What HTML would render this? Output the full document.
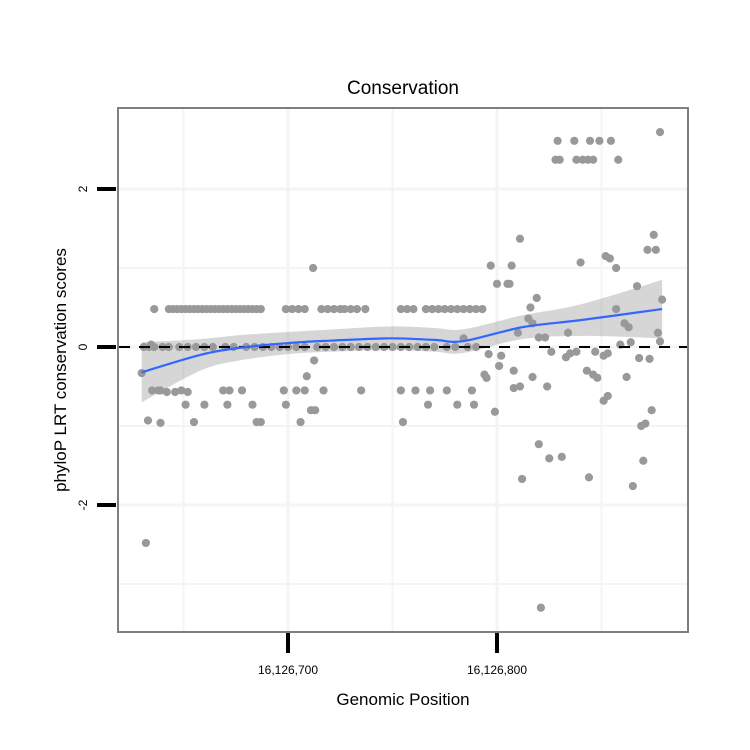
<!DOCTYPE html>
<html><head><meta charset="utf-8"><style>
body{margin:0;background:#fff}
svg{display:block;font-family:"Liberation Sans",sans-serif}
</style></head><body>
<svg id="chart" width="750" height="750"></svg>
<script>
const posOffsets=[-70,-68,-67,-66.5,-65.5,-64,-65,-62,-61,-58,-54,-51,-48,-61,
-57,-55,-53,-51,-49,-47,-45,-43,-41,-39,-37,-35,-33,-31,-29,-27,-25,-23,-21,-19,-17,-15,-13,
-1,2,5,8,16,19,22,25,27,30,33,37,54,57,60,66,69,72,75,78,81,84,87,90,93,
-69,-64,-60,-57,-52,-48,-44,-40,-36,-30,-26,-20,-16,-12,-8,-4,0,4,8,14,18,22,26,30,34,38,42,46,50,54,58,62,66,70,76,80,86,90,
-31,-28,-22,-2,4,8,17,35,54,61,68,76,88,
-49,-40,-29,-17,-1,67,81,89,
-45,-15,-13,6,55,
12,12.5,9,11,13,
129,137,144.5,149,154.5,128,130,138,141,143.5,146,158,178,
111,97,107,100,105,106,140,152,157,154,175,172,176,167,179,119,116,115,117,157,161,163,177,178,134,110,120,123,84,
96,102,101,94,95,108,108,111,117,124,126,133,135,138,147,151,143,146,148,153,159,164,168,173,162,151,153,99,120,125,131,112,144,121,165,170,169,171,174];
const scores=[-0.33,-2.48,-0.93,0,0.03,0.48,-0.55,-0.55,-0.55,-0.57,-0.57,-0.55,-0.57,-0.96,
0.48,0.48,0.48,0.48,0.48,0.48,0.48,0.48,0.48,0.48,0.48,0.48,0.48,0.48,0.48,0.48,0.48,0.48,0.48,0.48,0.48,0.48,0.48,
0.48,0.48,0.48,0.48,0.48,0.48,0.48,0.48,0.48,0.48,0.48,0.48,0.48,0.48,0.48,0.48,0.48,0.48,0.48,0.48,0.48,0.48,0.48,0.48,0.48,
0,0,0,0,0,0,0,0,0,0,0,0,0,0,0,0,0,0,0,0,0,0,0,0,0,0,0,0,0,0,0,0,0,0,0,0,0,0,
-0.55,-0.55,-0.55,-0.55,-0.55,-0.55,-0.55,-0.55,-0.55,-0.55,-0.55,-0.55,-0.55,
-0.73,-0.73,-0.73,-0.73,-0.73,-0.73,-0.73,-0.73,
-0.95,-0.95,-0.95,-0.95,-0.95,
1.0,-0.17,-0.37,-0.8,-0.8,
2.61,2.61,2.61,2.61,2.61,2.37,2.37,2.37,2.37,2.37,2.37,2.37,2.72,
1.37,1.03,1.03,0.8,0.8,0.8,1.07,1.15,1.0,1.12,1.42,1.23,1.23,0.77,0.6,0.62,0.5,0.36,0.3,0.48,0.3,0.25,0.18,0.07,0.18,0.18,0.12,0.12,0.11,
-0.09,-0.11,-0.24,-0.35,-0.39,-0.3,-0.52,-0.5,-0.38,-0.5,-0.06,-0.13,-0.08,-0.06,-0.06,-0.11,-0.3,-0.35,-0.39,-0.08,0.03,0.06,-0.14,-0.15,-0.38,-0.68,-0.62,-0.82,-1.23,-1.41,-1.39,-1.67,-1.65,-3.3,-1.76,-1.44,-1.0,-0.97,-0.8];
const smoothX=[-70,-42,-23,0,20,49,70,84,112,140,179];
const smoothY=[-0.32,-0.10,-0.01,0.05,0.08,0.11,0.09,0.075,0.25,0.34,0.48];
const smoothSE=[0.38,0.2,0.16,0.14,0.14,0.15,0.15,0.15,0.15,0.2,0.37];
const xTicks=[16126700,16126800];
const xTickLabels=["16,126,700","16,126,800"];
const yTicks=[-2,0,2];
const base=16126700;
const X=d=>288+d*2.09;
const Y=v=>347-v*79;
const NS="http://www.w3.org/2000/svg";
const svg=document.getElementById('chart');
function mk(t,a,p){const e=document.createElementNS(NS,t);for(const k in a)e.setAttribute(k,a[k]);(p||svg).appendChild(e);return e;}
function curve(pts){let s='M'+pts[0][0]+','+pts[0][1];
for(let i=0;i<pts.length-1;i++){const p0=pts[Math.max(i-1,0)],p1=pts[i],p2=pts[i+1],p3=pts[Math.min(i+2,pts.length-1)];
s+=' C'+(p1[0]+(p2[0]-p0[0])/6)+','+(p1[1]+(p2[1]-p0[1])/6)+' '+(p2[0]-(p3[0]-p1[0])/6)+','+(p2[1]-(p3[1]-p1[1])/6)+' '+p2[0]+','+p2[1];}
return s;}
[-3,-2,-1,0,1,2].forEach(v=>{const l=mk('line',{x1:119,x2:687,y1:Y(v),y2:Y(v),stroke:'#f4f4f4','stroke-width':Math.abs(v)%2?2:3});
});
[-50,0,50,100,150].forEach(d=>{const l=mk('line',{x1:X(d),x2:X(d),y1:109,y2:631,stroke:'#f4f4f4','stroke-width':d%100?2:3});
});
const upP=smoothX.map((d,i)=>[X(d),Y(smoothY[i]+smoothSE[i])]);
const loP=smoothX.map((d,i)=>[X(d),Y(smoothY[i]-smoothSE[i])]).reverse();
const band=mk('path',{d:curve(upP)+' L'+loP[0][0]+','+loP[0][1]+' '+curve(loP).slice(1)+' Z',fill:'#999','fill-opacity':0.4});

posOffsets.forEach((d,i)=>{const c=mk('circle',{cx:X(d),cy:Y(scores[i]),r:4.1,fill:'#999'});
});
const z=mk('line',{x1:119,x2:687,y1:Y(0),y2:Y(0),stroke:'#000','stroke-width':2,'stroke-dasharray':'11,9'});

const sm=mk('path',{d:curve(smoothX.map((d,i)=>[X(d),Y(smoothY[i])])),fill:'none',stroke:'#3366ff','stroke-width':2.2});

const b=mk('rect',{x:118,y:108,width:570,height:524,fill:'none',stroke:'#7f7f7f','stroke-width':2});

yTicks.forEach(v=>{const t=mk('line',{x1:97,x2:116,y1:Y(v),y2:Y(v),stroke:'#000','stroke-width':4});

const tx=mk('text',{x:0,y:0,transform:`translate(87,${Y(v)}) rotate(-90)`,'text-anchor':'middle','font-size':12});
tx.textContent=v;});
xTicks.forEach((p,i)=>{const t=mk('line',{x1:X(p-base),x2:X(p-base),y1:633,y2:653,stroke:'#000','stroke-width':4});

const tx=mk('text',{x:X(p-base),y:674,'text-anchor':'middle','font-size':12});
tx.textContent=xTickLabels[i];});
</script>
<div style="position:absolute;left:0;top:0;width:750px;height:750px;pointer-events:none">
<svg width="750" height="750" style="font-family:'Liberation Sans',sans-serif">
<text x="403" y="94" text-anchor="middle" font-size="19">Conservation</text>
<text x="403" y="705" text-anchor="middle" font-size="17">Genomic Position</text>
<text transform="translate(66,370) rotate(-90)" text-anchor="middle" font-size="17">phyloP LRT conservation scores</text>
</svg></div>
</body></html>
